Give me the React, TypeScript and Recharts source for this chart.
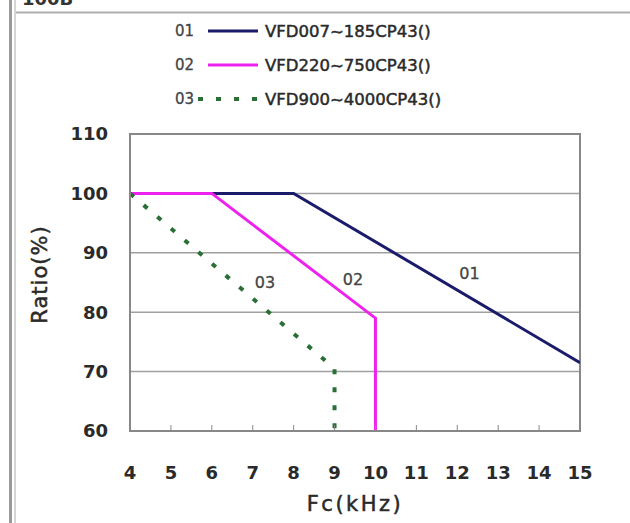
import React from 'react'
import {
  LineChart,
  Line,
  XAxis,
  YAxis,
  CartesianGrid,
  ReferenceArea,
  ReferenceDot,
} from 'recharts'

// axis ticks
const FREQ_TICKS = [4, 5, 6, 7, 8, 9, 10, 11, 12, 13, 14, 15]
const RATIO_TICKS = [60, 70, 80, 90, 100, 110]

// series
const SERIES_CODES = ['01', '02', '03']
const SERIES_NAMES = ['VFD007~185CP43()', 'VFD220~750CP43()', 'VFD900~4000CP43()']

const FREQ_01 = [4, 8, 15]
const RATIO_01 = [100, 100, 71.5]

const FREQ_02 = [4, 6, 10, 10]
const RATIO_02 = [100, 100, 79, 60]

const FREQ_03 = [4, 9, 9]
const RATIO_03 = [100, 70.5, 60]

// in-plot curve labels
const LABEL_FREQ = [12.3, 9.45, 7.3]
const LABEL_RATIO = [86.5, 85.5, 85]

const COLORS = ['#1b1b6c', '#ee22ee', '#2a7036']
const WIDTHS = [3, 3, 4]
const DASHES = [undefined, undefined, '5 13']

const FONT = '"DejaVu Sans", sans-serif'
const INK = '#2a2a2a'

function toPoints(xs: number[], ys: number[]) {
  return xs.map((x, i) => ({ x, y: ys[i] }))
}

const SERIES = [
  toPoints(FREQ_01, RATIO_01),
  toPoints(FREQ_02, RATIO_02),
  toPoints(FREQ_03, RATIO_03),
]

function YTitle({ viewBox }: any) {
  const cx = viewBox.x + 40
  const cy = viewBox.y + viewBox.height / 2 - 8
  return (
    <text
      x={cx}
      y={cy}
      transform={`rotate(-90 ${cx} ${cy})`}
      textAnchor="middle"
      dominantBaseline="central"
      fontSize={21}
      letterSpacing={1}
      fill={INK}
      stroke={INK}
      strokeWidth={0.5}
    >
      Ratio(%)
    </text>
  )
}

function XTitle({ viewBox }: any) {
  return (
    <text
      x={viewBox.x + viewBox.width / 2}
      y={viewBox.y + 73}
      textAnchor="middle"
      dominantBaseline="central"
      fontSize={21}
      letterSpacing={2.5}
      fill={INK}
      stroke={INK}
      strokeWidth={0.5}
    >
      Fc(kHz)
    </text>
  )
}

function Overlay() {
  return (
    <svg
      width={630}
      height={523}
      style={{ position: 'absolute', left: 0, top: 0, pointerEvents: 'none' }}
    >
      {/* page frame */}
      <line x1={10.5} y1={0} x2={10.5} y2={523} stroke="#9a9a9a" strokeWidth={3} />
      <line x1={15} y1={0} x2={15} y2={523} stroke="#c8c8c8" strokeWidth={1.5} />
      <line x1={16} y1={12.5} x2={630} y2={12.5} stroke="#b0b0b0" strokeWidth={2} />
      <text x={22} y={5} fontSize={18} fontWeight="bold" fill="#333">
        100B
      </text>

      {/* legend */}
      {SERIES_NAMES.map((name, i) => {
        const y = 31 + i * 34
        return (
          <g key={name}>
            <text
              x={175}
              y={y}
              fontSize={15}
              fill="#444"
              stroke="#444"
              strokeWidth={0.3}
              dominantBaseline="central"
            >
              {SERIES_CODES[i]}
            </text>
            <line
              x1={i === 2 ? 198 : 208}
              y1={y}
              x2={258}
              y2={y}
              stroke={COLORS[i]}
              strokeWidth={WIDTHS[i]}
              strokeDasharray={DASHES[i]}
            />
            <text
              x={265}
              y={y}
              fontSize={16.5}
              fill={INK}
              stroke={INK}
              strokeWidth={0.5}
              dominantBaseline="central"
            >
              {name}
            </text>
          </g>
        )
      })}
    </svg>
  )
}

export default function App() {
  return (
    <div
      style={{
        position: 'absolute',
        left: 0,
        top: 0,
        width: 630,
        height: 523,
        background: '#fff',
        overflow: 'hidden',
        fontFamily: FONT,
      }}
    >
      <LineChart
        width={630}
        height={523}
        margin={{ top: 134, right: 50, bottom: 0, left: 0 }}
      >
        <CartesianGrid vertical={false} stroke="#a0a0a0" strokeWidth={1.5} />
        <XAxis
          type="number"
          dataKey="x"
          domain={[4, 15]}
          ticks={FREQ_TICKS}
          allowDataOverflow
          height={92}
          axisLine={{ stroke: '#888', strokeWidth: 2 }}
          tickLine={{ stroke: '#888' }}
          tickSize={-6}
          tickMargin={41}
          tick={{ fontSize: 18, fontWeight: 'bold', fill: INK }}
          label={<XTitle />}
        />
        <YAxis
          type="number"
          dataKey="y"
          domain={[60, 110]}
          ticks={RATIO_TICKS}
          allowDataOverflow
          width={130}
          axisLine={{ stroke: '#888', strokeWidth: 2 }}
          tickLine={false}
          tickSize={0}
          tickMargin={22}
          tick={{ fontSize: 18, fontWeight: 'bold', fill: INK }}
          label={<YTitle />}
        />
        <ReferenceArea
          x1={4}
          x2={15}
          y1={60}
          y2={110}
          fill="none"
          stroke="#888"
          strokeWidth={2}
        />
        {SERIES.map((pts, i) => (
          <Line
            key={SERIES_CODES[i]}
            data={pts}
            dataKey="y"
            type="linear"
            stroke={COLORS[i]}
            strokeWidth={WIDTHS[i]}
            strokeDasharray={DASHES[i]}
            dot={false}
            activeDot={false}
            isAnimationActive={false}
          />
        ))}
        {SERIES_CODES.map((code, i) => (
          <ReferenceDot
            key={'lbl' + code}
            x={LABEL_FREQ[i]}
            y={LABEL_RATIO[i]}
            r={0}
            fill="none"
            stroke="none"
            label={{
              value: code,
              position: 'center',
              fontSize: 16,
              fill: '#444',
              stroke: '#444',
              strokeWidth: 0.3,
            }}
          />
        ))}
      </LineChart>
      <Overlay />
    </div>
  )
}
